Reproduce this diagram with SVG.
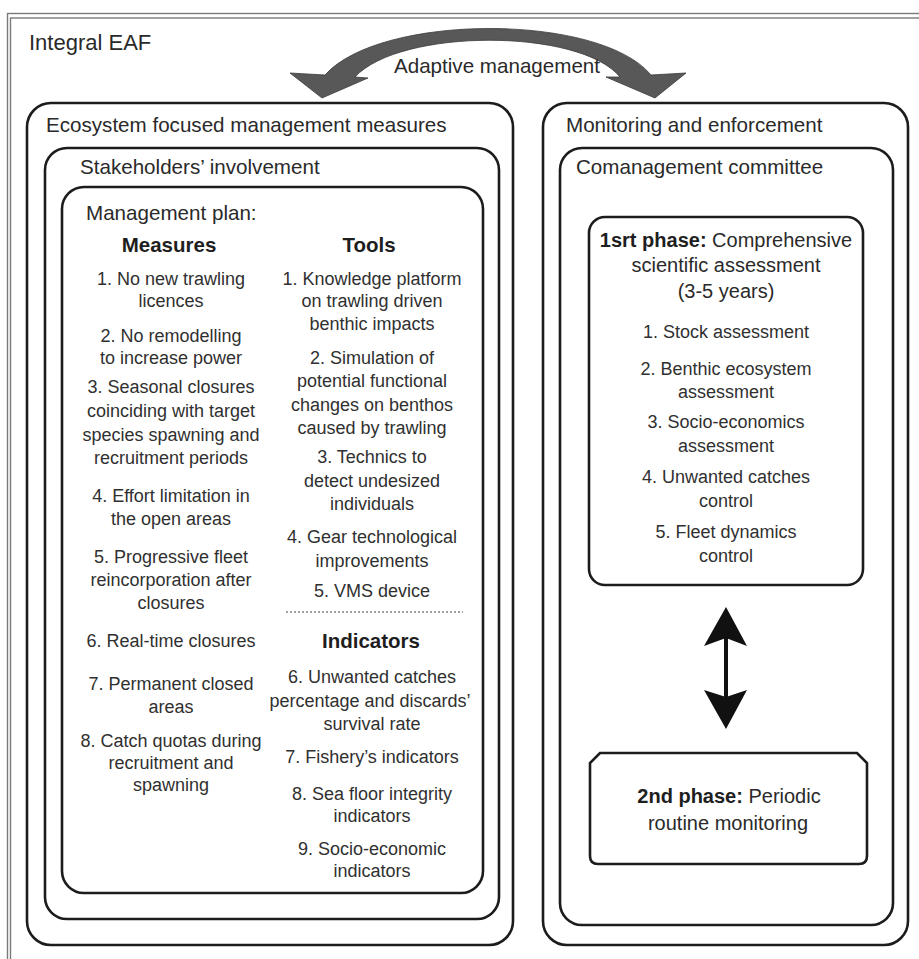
<svg xmlns="http://www.w3.org/2000/svg" width="919" height="959" viewBox="0 0 919 959">
  <style>
    .frame { fill: none; stroke: #7a7a7a; stroke-width: 1.4; }
    .box { fill: none; stroke: #1c1c1c; stroke-width: 2.6; }
    .hd { font-family: "Liberation Sans", Arial, sans-serif; font-size: 20.6px; fill: #2a2a2a; }
    .it { font-family: "Liberation Sans", Arial, sans-serif; font-size: 18px; fill: #303030; text-anchor: middle; }
    .ph { font-family: "Liberation Sans", Arial, sans-serif; font-size: 20px; fill: #2a2a2a; text-anchor: middle; }
    .bh { font-family: "Liberation Sans", Arial, sans-serif; font-size: 20.5px; font-weight: bold; fill: #1e1e1e; text-anchor: middle; }
    .b { font-weight: bold; fill: #1e1e1e; }
  </style>

  <rect width="919" height="959" fill="#ffffff"/>

  <!-- double-line outer frame running off the page edge -->
  <g id="frame">
    <rect class="frame" x="7.5" y="13.5" width="1000" height="1000"/>
    <rect class="frame" x="10.5" y="18" width="1000" height="1000"/>
    <text class="hd" x="29" y="50" style="font-size:22px">Integral EAF</text>
  </g>

  <!-- left column -->
  <g id="ecosystem-measures">
    <rect class="box" x="27" y="103" width="486" height="842" rx="24"/>
    <text class="hd" x="46" y="132">Ecosystem focused management measures</text>
  </g>

  <g id="stakeholders">
    <rect class="box" x="45" y="148" width="454" height="771" rx="22"/>
    <text class="hd" x="80" y="174">Stakeholders’ involvement</text>
  </g>

  <g id="management-plan">
    <rect class="box" x="62" y="187" width="421" height="706" rx="22"/>
    <text class="hd" x="86" y="220">Management plan:</text>

    <text class="bh" x="169" y="252">Measures</text>
    <text class="it" x="171" y="285">1. No new trawling</text>
    <text class="it" x="171" y="307">licences</text>
    <text class="it" x="171" y="342">2. No remodelling</text>
    <text class="it" x="171" y="364">to increase power</text>
    <text class="it" x="171" y="393">3. Seasonal closures</text>
    <text class="it" x="171" y="417">coinciding with target</text>
    <text class="it" x="171" y="441">species spawning and</text>
    <text class="it" x="171" y="464">recruitment periods</text>
    <text class="it" x="171" y="502">4. Effort limitation in</text>
    <text class="it" x="171" y="525">the open areas</text>
    <text class="it" x="171" y="563">5. Progressive fleet</text>
    <text class="it" x="171" y="586">reincorporation after</text>
    <text class="it" x="171" y="609">closures</text>
    <text class="it" x="171" y="647">6. Real-time closures</text>
    <text class="it" x="171" y="690">7. Permanent closed</text>
    <text class="it" x="171" y="713">areas</text>
    <text class="it" x="171" y="747">8. Catch quotas during</text>
    <text class="it" x="171" y="769">recruitment and</text>
    <text class="it" x="171" y="791">spawning</text>

    <text class="bh" x="369" y="252">Tools</text>
    <text class="it" x="372" y="285">1. Knowledge platform</text>
    <text class="it" x="372" y="307">on trawling driven</text>
    <text class="it" x="372" y="330">benthic impacts</text>
    <text class="it" x="372" y="364">2. Simulation of</text>
    <text class="it" x="372" y="387">potential functional</text>
    <text class="it" x="372" y="411">changes on benthos</text>
    <text class="it" x="372" y="434">caused by trawling</text>
    <text class="it" x="372" y="463">3. Technics to</text>
    <text class="it" x="372" y="487">detect undesized</text>
    <text class="it" x="372" y="510">individuals</text>
    <text class="it" x="372" y="543">4. Gear technological</text>
    <text class="it" x="372" y="567">improvements</text>
    <text class="it" x="372" y="597">5. VMS device</text>

    <line x1="286" y1="612" x2="463" y2="612" stroke="#444" stroke-width="1.2" stroke-dasharray="2 2"/>

    <text class="bh" x="371" y="648">Indicators</text>
    <text class="it" x="372" y="683">6. Unwanted catches</text>
    <text class="it" x="370" y="707">percentage and discards’</text>
    <text class="it" x="372" y="730">survival rate</text>
    <text class="it" x="372" y="763">7. Fishery’s indicators</text>
    <text class="it" x="372" y="800">8. Sea floor integrity</text>
    <text class="it" x="372" y="822">indicators</text>
    <text class="it" x="372" y="855">9. Socio-economic</text>
    <text class="it" x="372" y="877">indicators</text>
  </g>

  <!-- right column -->
  <g id="monitoring">
    <rect class="box" x="543" y="103" width="365" height="842" rx="24"/>
    <text class="hd" x="566" y="132">Monitoring and enforcement</text>
  </g>

  <g id="comanagement">
    <rect class="box" x="560" y="148" width="333" height="777" rx="22"/>
    <text class="hd" x="576" y="174">Comanagement committee</text>
  </g>

  <g id="phase-1">
    <rect class="box" x="589" y="217" width="274" height="368" rx="16"/>
    <text class="ph" x="726" y="247"><tspan class="b">1srt phase:</tspan> Comprehensive</text>
    <text class="ph" x="726" y="272">scientific assessment</text>
    <text class="ph" x="726" y="298">(3-5 years)</text>
    <text class="it" x="726" y="338">1. Stock assessment</text>
    <text class="it" x="726" y="375">2. Benthic ecosystem</text>
    <text class="it" x="726" y="398">assessment</text>
    <text class="it" x="726" y="428">3. Socio-economics</text>
    <text class="it" x="726" y="452">assessment</text>
    <text class="it" x="726" y="483">4. Unwanted catches</text>
    <text class="it" x="726" y="507">control</text>
    <text class="it" x="726" y="538">5. Fleet dynamics</text>
    <text class="it" x="726" y="562">control</text>
  </g>

  <g id="phase-2">
    <path class="box" d="M600,753 L857,753 L867,763 L867,856 Q867,864 859,864 L598,864 Q590,864 590,856 L590,763 Z"/>
    <text class="ph" x="729" y="803"><tspan class="b">2nd phase:</tspan>  Periodic</text>
    <text class="ph" x="728" y="830">routine monitoring</text>
  </g>

  <!-- connectors -->
  <g id="connectors">
    <!-- adaptive management loop between the two columns -->
    <path d="M325,75 L290,73 L322,98 L368,78 L355,77 C400,28 580,28 620,77 L606,77 L655,98 L686,73 L651,75 C600,13 380,13 325,75 Z"
          fill="#585858" stroke="#3a3a3a" stroke-width="0.8" stroke-linejoin="round"/>
    <text class="hd" x="497" y="73" text-anchor="middle">Adaptive management</text>

    <!-- two-way link between phases -->
    <line x1="726" y1="636" x2="726" y2="699" stroke="#111" stroke-width="4"/>
    <polygon points="726,607 747,646 726,638 704,646" fill="#111"/>
    <polygon points="726,729 747,690 726,697 704,690" fill="#111"/>
  </g>
</svg>
